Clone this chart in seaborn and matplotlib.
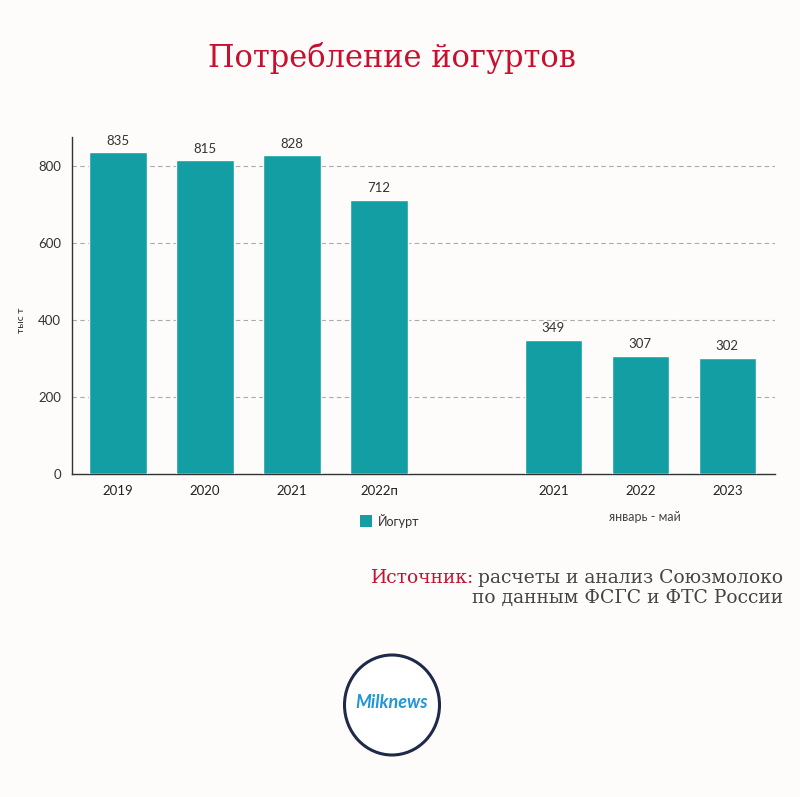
import matplotlib
matplotlib.use("Agg")
import matplotlib.pyplot as plt
import seaborn as sns
import pandas as pd
from matplotlib.patches import Ellipse, Rectangle

# ---- data ----
labels = ["2019", "2020", "2021", "2022п", "2021", "2022", "2023"]
values = [835, 815, 828, 712, 349, 307, 302]
keys = ["k0", "k1", "k2", "k3", "k5", "k6", "k7"]
order = ["k0", "k1", "k2", "k3", "gap", "k5", "k6", "k7"]
tick_labels = ["2019", "2020", "2021", "2022п", "", "2021", "2022", "2023"]
series_name = "Йогурт"
period_label = "январь - май"
y_ticks = [0, 200, 400, 600, 800]

BG = "#fdfcfa"
TEAL = "#129ea3"
RED = "#c8102e"
SERIF = ["DejaVu Serif", "Liberation Serif"]

sns.set_theme(style="white")
plt.rcParams["font.family"] = ["Lato", "DejaVu Sans"]

df = pd.DataFrame({"key": keys, "value": values, "series": series_name})

fig = plt.figure(figsize=(8, 7.97), dpi=100, facecolor=BG)
ax = fig.add_axes([0.09, 0.4053, 0.879, 0.4227])
ax.set_facecolor(BG)

sns.barplot(data=df, x="key", y="value", order=order, color=TEAL,
            width=0.66, ax=ax, saturation=1, zorder=3)

ax.set_xlim(-0.53, 7.55)
ax.set_ylim(0, 875)
ax.set_yticks(y_ticks)
ax.set_yticklabels([str(v) for v in y_ticks], fontsize=9.5, color="#333333")
ax.set_xticks(range(len(order)))
ax.set_xticklabels(tick_labels, fontsize=9.5, color="#222222")
ax.tick_params(axis="both", length=0, pad=8)
ax.set_xlabel("")
ax.set_ylabel("тыс т", fontsize=7.5, color="#333333")
ax.yaxis.set_label_coords(-0.066, 0.457)

for v in y_ticks[1:]:
    ax.axhline(v, color="#aaaaaa", linestyle=(0, (4, 3)), linewidth=0.8, zorder=1)

for s in ["top", "right"]:
    ax.spines[s].set_visible(False)
for s in ["left", "bottom"]:
    ax.spines[s].set_color("#333333")
    ax.spines[s].set_linewidth(1.0)

# value labels
for p, v in zip(ax.patches, values):
    ax.annotate(str(v), (p.get_x() + p.get_width() / 2, p.get_height()),
                xytext=(0, 4), textcoords="offset points",
                ha="center", va="bottom", fontsize=9.5, color="#333333")

# period label under second group
fig.text(645 / 800, 1 - 517 / 797, period_label, ha="center", va="center",
         fontsize=9, color="#444444")

# legend
fig.add_artist(Rectangle((360 / 800, 1 - 527 / 797), 12 / 800, 12 / 797,
                         transform=fig.transFigure, facecolor=TEAL, edgecolor="none"))
fig.text(378 / 800, 1 - 521 / 797, series_name, ha="left", va="center",
         fontsize=9, color="#333333")

# title
fig.text(392 / 800, 1 - 58 / 797, "Потребление йогуртов", ha="center", va="center",
         fontsize=22, color=RED, family=SERIF)

# source
src_y1 = 1 - 578 / 797
t1 = fig.text(783 / 800, src_y1, "расчеты и анализ Союзмолоко", ha="right", va="center",
              fontsize=13.5, color="#444444", family=SERIF)
fig.canvas.draw()
bb = t1.get_window_extent()
fig.text(bb.x0 / 800 - 0.005, src_y1, "Источник:", ha="right", va="center",
         fontsize=13.5, color=RED, family=SERIF)
fig.text(783 / 800, 1 - 598 / 797, "по данным ФСГС и ФТС России", ha="right", va="center",
         fontsize=13.5, color="#444444", family=SERIF)

# logo
fig.add_artist(Ellipse((392 / 800, 1 - 705 / 797), 95 / 800, 100 / 797,
                       transform=fig.transFigure, facecolor="white",
                       edgecolor="#1f2a4a", linewidth=2.2))
fig.text(392 / 800, 1 - 703 / 797, "Milknews", ha="center", va="center",
         fontsize=13, color="#2196d9", style="italic", fontweight="bold")

fig.savefig("out.png", dpi=100, facecolor=BG)
